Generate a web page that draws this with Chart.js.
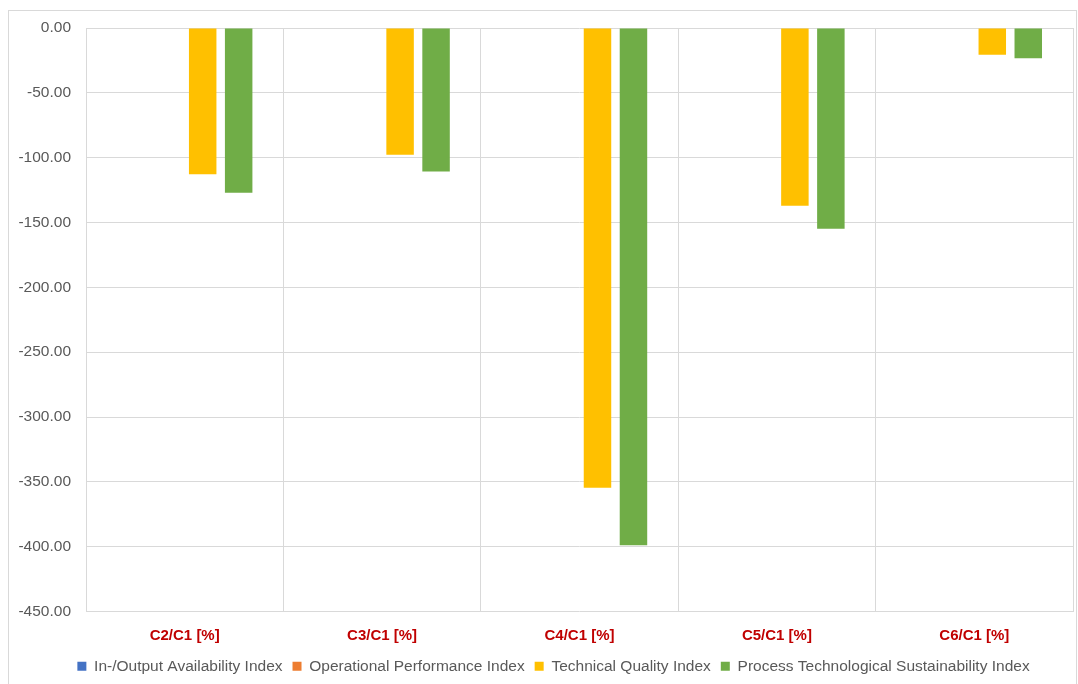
<!DOCTYPE html>
<html>
<head>
<meta charset="utf-8">
<script src="https://cdn.jsdelivr.net/npm/chart.js@4/dist/chart.umd.min.js"></script>
<style>
  html, body { margin: 0; padding: 0; background: #ffffff; }
  #frame { position: absolute; left: 8px; top: 10px; width: 1069px; height: 680px; border: 1px solid #d9d9d9; box-sizing: border-box; }
  #wrap { position: absolute; left: 0; top: 0; width: 1078px; height: 684px; }
</style>
</head>
<body>
<div id="frame"></div>
<div id="wrap"><canvas id="chart" width="1078" height="684"></canvas></div>
<script>
// Ratios of each configuration against the C1 baseline, in percent
const categories = ['C2/C1 [%]', 'C3/C1 [%]', 'C4/C1 [%]', 'C5/C1 [%]', 'C6/C1 [%]'];
const availabilityIndex = [0, 0, 0, 0, 0];
const operationalIndex = [0, 0, 0, 0, 0];
const technicalQualityIndex = [-112.7, -97.8, -354.5, -137.1, -20.6];
const sustainabilityIndex = [-127.1, -110.6, -399.0, -154.9, -23.4];

const seriesNames = [
  'In-/Output Availability Index',
  'Operational Performance Index',
  'Technical Quality Index',
  'Process Technological Sustainability Index'
];
const seriesColors = ['#4472C4', '#ED7D31', '#FFC000', '#70AD47'];
const seriesValues = [availabilityIndex, operationalIndex, technicalQualityIndex, sustainabilityIndex];

const font = '"Liberation Sans", Arial, sans-serif';

// Centre the legend under the plot area rather than the whole canvas
const legendShift = {
  id: 'legendShift',
  afterLayout(chart) {
    const lg = chart.legend;
    if (!lg) return;
    const dx = 17;
    lg.left += dx;
    lg.right += dx;
  }
};

new Chart(document.getElementById('chart'), {
  type: 'bar',
  data: {
    labels: categories,
    datasets: seriesNames.map((name, i) => ({
      label: name,
      data: seriesValues[i],
      backgroundColor: seriesColors[i],
      borderWidth: 0,
      categoryPercentage: 0.729,
      barPercentage: 0.764
    }))
  },
  plugins: [legendShift],
  options: {
    responsive: false,
    animation: false,
    layout: { padding: { left: 0, top: 28, right: 5, bottom: 0 } },
    plugins: {
      tooltip: { enabled: false },
      legend: {
        position: 'bottom',
        labels: {
          boxWidth: 9,
          boxHeight: 9,
          padding: 10,
          color: '#595959',
          font: { family: font, size: 15.5 }
        }
      }
    },
    scales: {
      x: {
        grid: { color: '#d9d9d9', drawTicks: false, offset: true },
        border: { display: false },
        ticks: {
          color: '#C00000',
          padding: 15,
          font: { family: font, size: 15, weight: 'bold' }
        },
        afterFit: (scale) => { scale.height = 37; }
      },
      y: {
        min: -450,
        max: 0,
        grid: { color: '#d9d9d9', drawTicks: false },
        border: { display: false },
        ticks: {
          stepSize: 50,
          color: '#595959',
          padding: 15,
          font: { family: font, size: 15.5 },
          callback: (v) => Number(v).toFixed(2)
        },
        afterFit: (scale) => { scale.width = 86; }
      }
    }
  }
});
</script>
</body>
</html>
